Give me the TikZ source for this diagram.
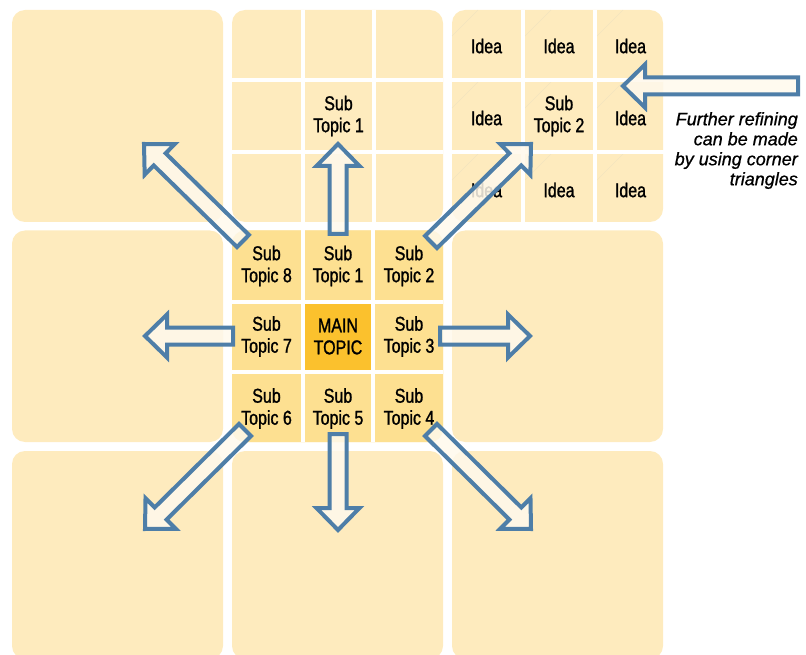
\documentclass[tikz,border=0pt]{standalone}
\usepackage{fontspec}
\setmainfont{Liberation Sans}
\newfontfamily\condfont{Liberation Sans}[FakeStretch=0.8,FakeBold=1.2]
\newfontfamily\notefont{Liberation Sans}[FakeStretch=1.0,FakeBold=0.8]
\usetikzlibrary{calc}
\definecolor{blocklight}{RGB}{254,235,190}
\definecolor{celldark}{RGB}{253,224,145}
\definecolor{maincell}{RGB}{251,193,45}
\definecolor{arrowline}{RGB}{78,126,168}
\definecolor{arrowfill}{RGB}{255,249,236}
\definecolor{cornerline}{RGB}{243,228,190}
\newcommand\shaftw{8.5pt}
\newcommand\headw{21.5pt}
\newcommand\headl{22pt}
\newcommand\blockarrow[3]{%
  \coordinate (#3h) at ($(#2)!\headl!(#1)$);
  \draw[barrow] ($(#1)!\shaftw!90:(#2)$) -- ($(#3h)!\shaftw!90:(#2)$) -- ($(#3h)!\headw!90:(#2)$) -- (#2)
    -- ($(#3h)!\headw!-90:(#2)$) -- ($(#3h)!\shaftw!-90:(#2)$) -- ($(#1)!\shaftw!-90:(#2)$) -- cycle;
}
\tikzset{
  block/.style={fill=blocklight, rounded corners=13pt},
  gapline/.style={draw=white, line width=4pt},
  cornertri/.style={draw=cornerline, line width=0.6pt},
  lbl/.style={font=\condfont\fontsize{20}{22}\selectfont, align=center, inner sep=0pt, text=black},
  note/.style={font=\notefont\itshape\fontsize{18}{20}\selectfont, align=right, inner sep=0pt, text=black},
  barrow/.style={draw=arrowline, fill=arrowfill, fill opacity=0.85, line width=4pt, line join=miter},
}
\begin{document}
\begin{tikzpicture}[x=1pt,y=-1pt]
\useasboundingbox (0,0) rectangle (806,655);
\begin{scope}
\clip (0,0) rectangle (806,655);
\foreach \bx in {12,232,452}{
  \fill[block] (\bx,10) rectangle ++(211,212);
  \fill[block] (\bx,230.5) rectangle ++(211,211.5);
  \fill[block] (\bx,451) rectangle ++(211,208);
}
\end{scope}
% centre block cells
\fill[celldark, rounded corners=13pt] (232,230.5) rectangle (443,442);
\fill[maincell] (305,304) rectangle (371,369.5);
% corner triangles (top right block)
\foreach \cx in {452,525,597}{
  \foreach \cy in {10,82,154}{
    \draw[cornertri] (\cx,\cy+26) -- (\cx+26,\cy);
  }
}
% gap lines
\draw[gapline] (303,10) -- (303,222) (374,10) -- (374,222) (232,80) -- (443,80) (232,152) -- (443,152);
\draw[gapline] (523,10) -- (523,222) (595,10) -- (595,222) (452,80) -- (664,80) (452,152) -- (664,152);
\draw[gapline] (303,230.5) -- (303,442) (373,230.5) -- (373,442) (232,302) -- (443,302) (232,371.5) -- (443,371.5);
% labels
\node[lbl] (tsub1) at (338.5,116) {Sub\\Topic 1};
\node[lbl] (tsub2) at (559,116) {Sub\\Topic 2};
\node[lbl] (i1) at (486.5,46) {Idea};
\node[lbl] (i2) at (559,46) {Idea};
\node[lbl] (i3) at (630.5,46) {Idea};
\node[lbl] (i4) at (486.5,118) {Idea};
\node[lbl] (i5) at (630.5,118) {Idea};
\node[lbl] (i6) at (486.5,190) {Idea};
\node[lbl] (i7) at (559,190) {Idea};
\node[lbl] (i8) at (630.5,190) {Idea};
\node[lbl] (s8) at (266.5,266) {Sub\\Topic 8};
\node[lbl] (s1) at (338,266) {Sub\\Topic 1};
\node[lbl] (s2) at (409,266) {Sub\\Topic 2};
\node[lbl] (s7) at (266.5,336.5) {Sub\\Topic 7};
\node[lbl] (main) at (338,336.5) {MAIN\\TOPIC};
\node[lbl] (s3) at (409,336.5) {Sub\\Topic 3};
\node[lbl] (s6) at (266.5,408.5) {Sub\\Topic 6};
\node[lbl] (s5) at (338,408.5) {Sub\\Topic 5};
\node[lbl] (s4) at (409,408.5) {Sub\\Topic 4};
\node[note, anchor=north east] (note) at (798,112) {Further refining\\can be made\\by using corner\\triangles};
% arrow end points
\coordinate (a1t) at (338,234); \coordinate (a1p) at (338,144);
\coordinate (a5t) at (338,434); \coordinate (a5p) at (338,530);
\coordinate (a7t) at (233,336); \coordinate (a7p) at (145,336);
\coordinate (a3t) at (440,336); \coordinate (a3p) at (530,336);
\coordinate (a8t) at (243,241); \coordinate (a8p) at (144,144);
\coordinate (a2t) at (431,242); \coordinate (a2p) at (531,144);
\coordinate (a6t) at (245,430); \coordinate (a6p) at (145,529);
\coordinate (a4t) at (431,430); \coordinate (a4p) at (531,529);
\coordinate (ant) at (798,86); \coordinate (anp) at (623,86);
\blockarrow{a1t}{a1p}{a1}
\blockarrow{a5t}{a5p}{a5}
\blockarrow{a7t}{a7p}{a7}
\blockarrow{a3t}{a3p}{a3}
\blockarrow{a8t}{a8p}{a8}
\blockarrow{a2t}{a2p}{a2}
\blockarrow{a6t}{a6p}{a6}
\blockarrow{a4t}{a4p}{a4}
\blockarrow{ant}{anp}{an}
\end{tikzpicture}
\end{document}
